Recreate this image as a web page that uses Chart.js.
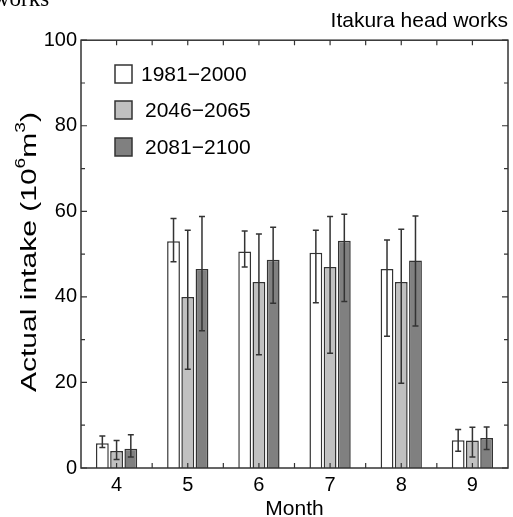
<!DOCTYPE html>
<html>
<head>
<meta charset="utf-8">
<title>Itakura head works</title>
<script src="https://cdn.jsdelivr.net/npm/chart.js@4.4.0/dist/chart.umd.min.js"></script>
<style>
  html, body { margin: 0; padding: 0; background: #fff; }
  #wrap { width: 513px; height: 517px; }
</style>
</head>
<body>
<div id="wrap"><canvas id="intakeChart" width="513" height="517"></canvas></div>
<script>
// --- Data (10^6 m^3) ---
const months = ['4', '5', '6', '7', '8', '9'];
const periods = ['1981\u22122000', '2046\u22122065', '2081\u22122100'];

const mean1981 = [5.8, 53.0, 50.6, 50.3, 46.5, 6.5];
const low1981  = [4.8, 48.2, 47.0, 38.6, 30.8, 3.9];
const high1981 = [7.5, 58.3, 55.4, 55.6, 53.3, 9.0];

const mean2046 = [4.0, 40.0, 43.5, 47.0, 43.5, 6.4];
const low2046  = [2.0, 23.1, 26.5, 26.8, 19.8, 2.6];
const high2046 = [6.4, 55.6, 54.7, 58.8, 55.8, 9.5];

const mean2081 = [4.5, 46.5, 48.7, 53.1, 48.5, 7.0];
const low2081  = [2.6, 32.1, 38.5, 38.9, 33.2, 4.3];
const high2081 = [7.8, 58.8, 56.3, 59.3, 58.9, 9.6];

const yTicks = [0, 20, 40, 60, 80, 100];

// --- Style ---
const FONT = "'Liberation Sans', Arial, sans-serif";
const FILLS = ['#ffffff', '#c0c0c0', '#808080'];
const EDGE = '#333333';

// ================================================================
// plugins: error bars, frame with inward ticks, legend, y title
// ================================================================

const errorBars = {
  id: 'errorBars',
  afterDatasetsDraw(chart) {
    const ctx = chart.ctx;
    const y = chart.scales.y;
    ctx.save();
    ctx.strokeStyle = '#333';
    ctx.lineWidth = 1.5;
    chart.data.datasets.forEach((ds, di) => {
      const meta = chart.getDatasetMeta(di);
      meta.data.forEach((bar, i) => {
        const yl = y.getPixelForValue(ds.errLow[i]);
        const yh = y.getPixelForValue(ds.errHigh[i]);
        const cap = 3;
        ctx.beginPath();
        ctx.moveTo(bar.x, yl); ctx.lineTo(bar.x, yh);
        ctx.moveTo(bar.x - cap, yl); ctx.lineTo(bar.x + cap, yl);
        ctx.moveTo(bar.x - cap, yh); ctx.lineTo(bar.x + cap, yh);
        ctx.stroke();
      });
    });
    ctx.restore();
  }
};

const frameTicks = {
  id: 'frameTicks',
  afterDraw(chart) {
    const { ctx, chartArea: a, scales } = chart;
    const x = scales.x, y = scales.y;
    ctx.save();
    ctx.strokeStyle = '#333';
    ctx.lineWidth = 1.5;
    ctx.strokeRect(a.left, a.top, a.right - a.left, a.bottom - a.top);

    ctx.lineWidth = 1.2;
    ctx.beginPath();
    // y ticks every 10, major at labels
    for (let v = 0; v <= 100; v += 10) {
      const py = y.getPixelForValue(v);
      const len = v % 20 === 0 ? 6 : 4;
      ctx.moveTo(a.left, py); ctx.lineTo(a.left + len, py);
      ctx.moveTo(a.right, py); ctx.lineTo(a.right - len, py);
    }
    // x ticks at category centres and boundaries
    const xs = [];
    for (let i = 0; i < months.length; i++) {
      const c = x.getPixelForValue(i);
      xs.push(c);
      if (i < months.length - 1) xs.push((c + x.getPixelForValue(i + 1)) / 2);
    }
    xs.forEach(px => {
      ctx.moveTo(px, a.top); ctx.lineTo(px, a.top + 5);
      ctx.moveTo(px, a.bottom); ctx.lineTo(px, a.bottom - 5);
    });
    ctx.stroke();
    ctx.restore();
  }
};

const boxLegend = {
  id: 'boxLegend',
  afterDraw(chart) {
    const ctx = chart.ctx;
    const rows = [74, 110, 147];
    ctx.save();
    ctx.font = '21px ' + FONT;
    ctx.textBaseline = 'middle';
    chart.data.datasets.forEach((ds, i) => {
      const cy = rows[i];
      ctx.fillStyle = ds.backgroundColor;
      ctx.fillRect(115, cy - 9, 17, 18);
      ctx.strokeStyle = EDGE;
      ctx.lineWidth = 1.5;
      ctx.strokeRect(115, cy - 9, 17, 18);
      ctx.fillStyle = '#000';
      ctx.fillText(ds.label, i === 0 ? 141 : 145, cy + 1);
    });
    ctx.restore();
  }
};

const sideText = {
  id: 'sideText',
  afterDraw(chart) {
    const ctx = chart.ctx;
    const a = chart.chartArea;
    ctx.save();
    ctx.fillStyle = '#000';
    // cropped leftover of a neighbouring panel title
    ctx.font = '23px "Liberation Serif", serif';
    ctx.textBaseline = 'alphabetic';
    ctx.fillText('works', -7, 6);

    // rotated y-axis title with superscripts
    const main = '22px ' + FONT, sup = '14px ' + FONT;
    const parts = [['Actual intake (10', main, 0], ['6', sup, -9], ['m', main, 0], ['3', sup, -9], [')', main, 0]];
    let total = 0;
    parts.forEach(p => { ctx.font = p[1]; total += ctx.measureText(p[0]).width; });
    const stretch = 280 / total;
    ctx.translate(29, (a.top + a.bottom) / 2 - 2);
    ctx.rotate(-Math.PI / 2);
    ctx.scale(stretch, 1);
    ctx.textBaseline = 'middle';
    let cx = -total / 2;
    parts.forEach(p => {
      ctx.font = p[1];
      ctx.fillText(p[0], cx, p[2] + 1);
      cx += ctx.measureText(p[0]).width;
    });
    ctx.restore();
  }
};

// ================================================================
// chart
// ================================================================

const means = [mean1981, mean2046, mean2081];
const lows = [low1981, low2046, low2081];
const highs = [high1981, high2046, high2081];

const datasets = periods.map((p, i) => ({
  label: p,
  data: means[i],
  errLow: lows[i],
  errHigh: highs[i],
  backgroundColor: FILLS[i],
  borderColor: EDGE,
  borderWidth: 1.5,
  categoryPercentage: 0.6,
  barPercentage: 0.9
}));

new Chart(document.getElementById('intakeChart'), {
  type: 'bar',
  data: { labels: months, datasets: datasets },
  options: {
    responsive: false,
    animation: false,
    devicePixelRatio: 1,
    layout: { padding: { left: 0, right: 5, top: 0, bottom: 0 } },
    plugins: {
      legend: { display: false },
      tooltip: { enabled: false },
      title: {
        display: true,
        text: 'Itakura head works',
        align: 'end',
        color: '#000',
        font: { family: FONT, size: 21, weight: 'normal', lineHeight: 1.2 },
        padding: { top: 9, bottom: 6 }
      }
    },
    scales: {
      x: {
        offset: true,
        grid: { display: false, drawTicks: false },
        border: { display: false },
        ticks: { color: '#000', font: { family: FONT, size: 20 }, padding: 5 },
        title: {
          display: true, text: 'Month', color: '#000',
          font: { family: FONT, size: 21, lineHeight: 1 },
          padding: { top: 0, bottom: -3 }
        },
        afterFit: s => { s.height = 49; }
      },
      y: {
        min: 0, max: 100,
        afterBuildTicks: s => { s.ticks = yTicks.map(v => ({ value: v })); },
        grid: { display: false, drawTicks: false },
        border: { display: false },
        ticks: { color: '#000', font: { family: FONT, size: 20 }, padding: 4 },
        afterFit: s => { s.width = 81; }
      }
    }
  },
  plugins: [errorBars, frameTicks, boxLegend, sideText]
});
</script>
</body>
</html>
